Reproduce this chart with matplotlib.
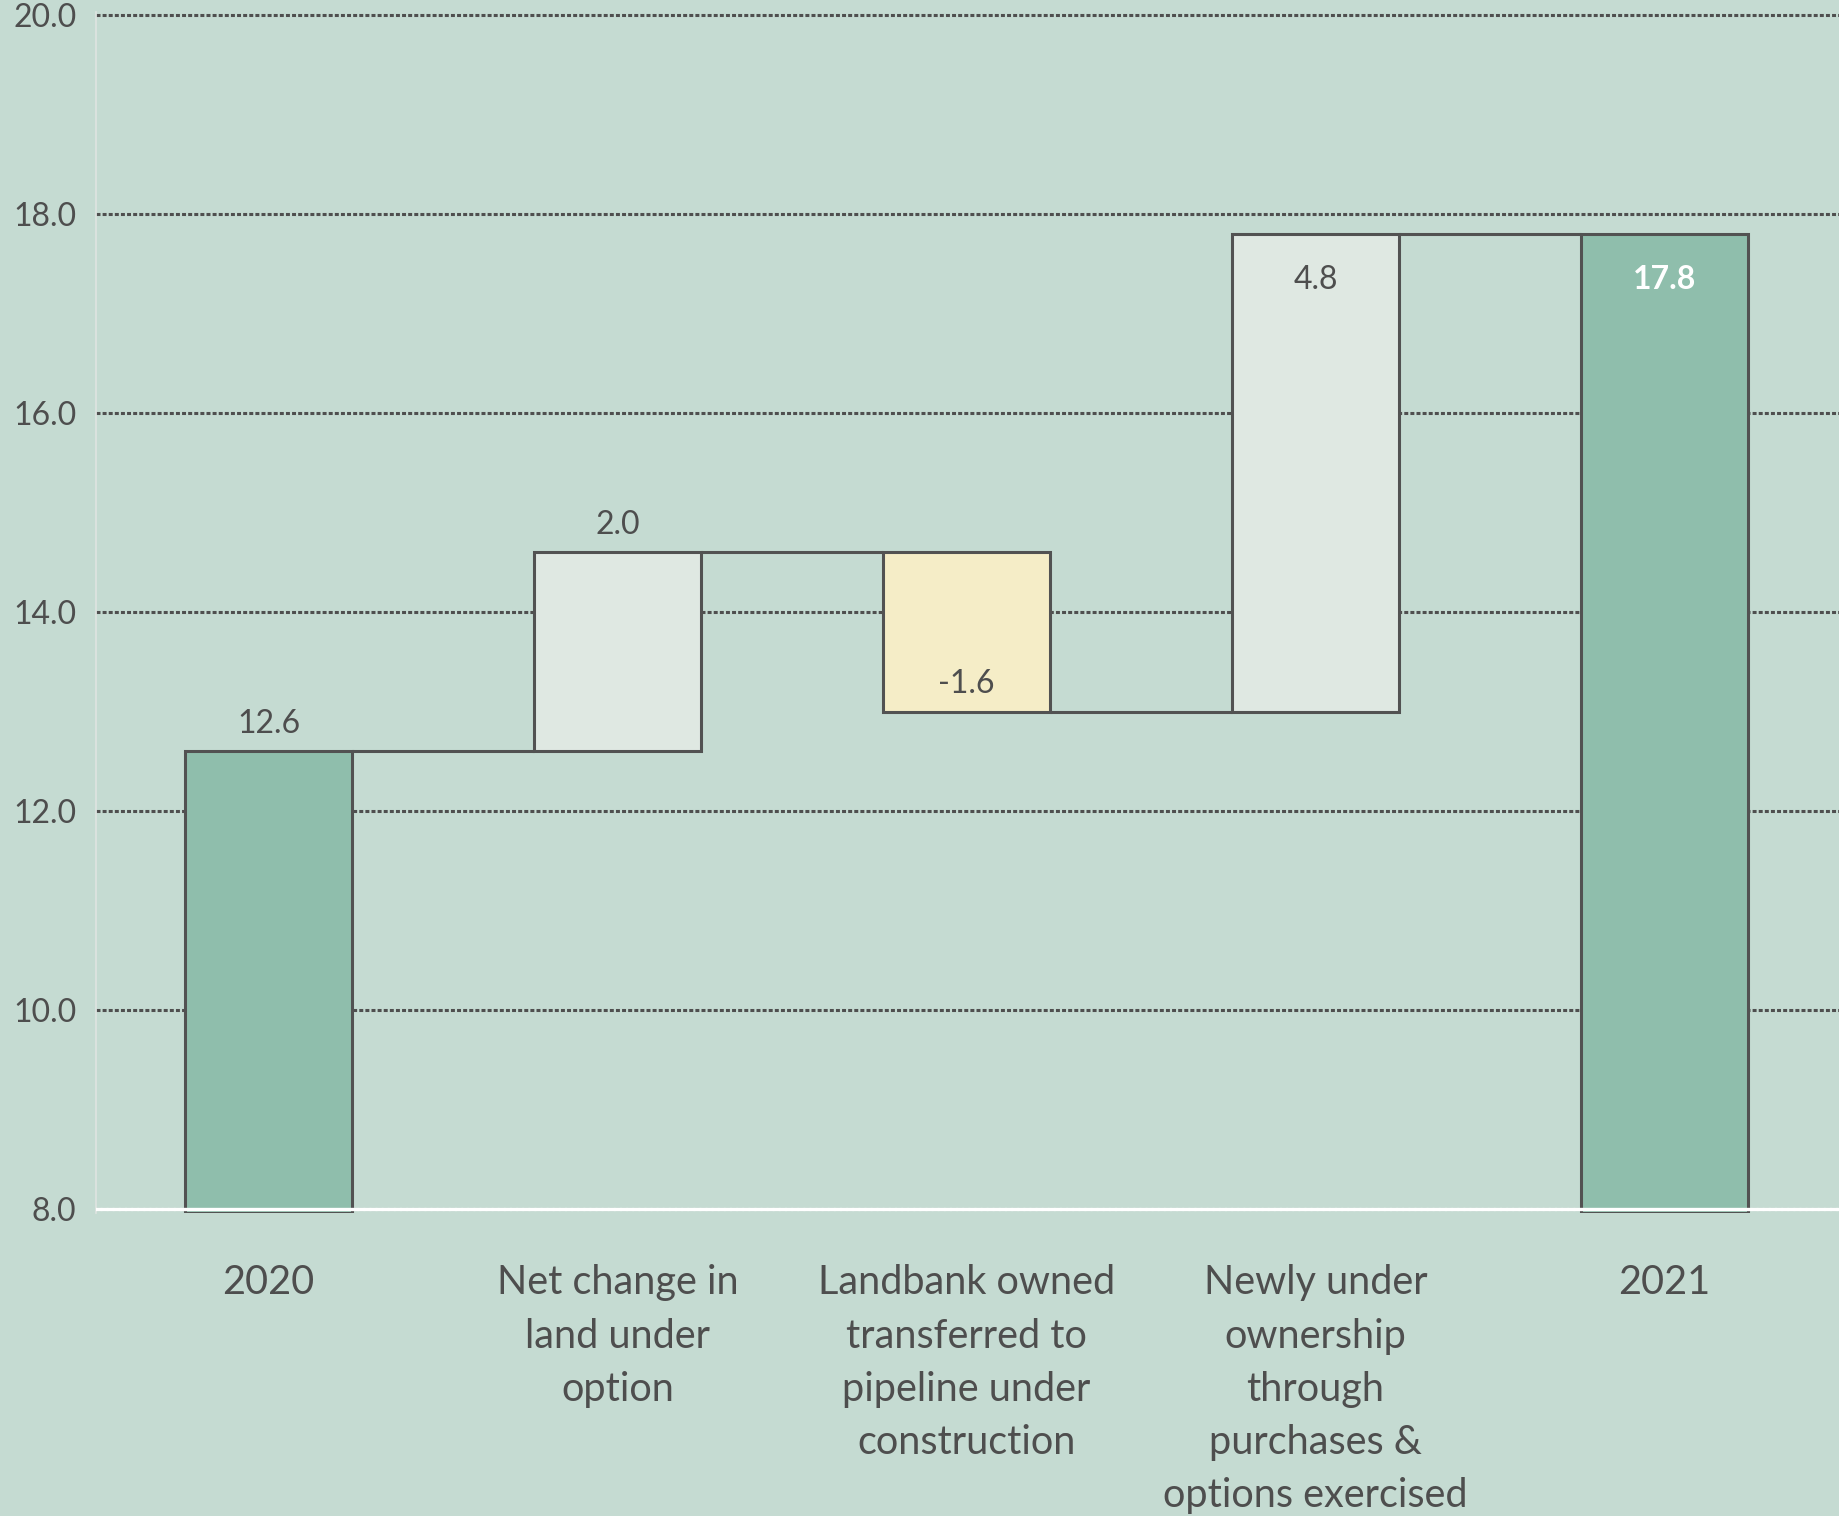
import matplotlib.pyplot as plt
import numpy as np

# Landbank bridge 2020 -> 2021
categories = ["2020",
              "Net change in\nland under\noption",
              "Landbank owned\ntransferred to\npipeline under\nconstruction",
              "Newly under\nownership\nthrough\npurchases &\noptions exercised",
              "2021"]
values = [12.6, 2.0, -1.6, 4.8, 17.8]
is_total = [True, False, False, False, True]
label_inside = [False, False, False, True, True]
yticks = [8.0, 10.0, 12.0, 14.0, 16.0, 18.0, 20.0]

bg = "#c5dbd2"
total_color = "#8fbeac"
up_color = "#dfe8e2"
down_color = "#f5edc7"
edge = "#525252"
text_color = "#4e4e4e"

plt.rcParams['font.family'] = ['Lato', 'DejaVu Sans']

W, H = 1839, 1516
fig = plt.figure(figsize=(W / 100, H / 100), dpi=100, facecolor=bg)
ax = fig.add_axes([96 / W, 1 - 1213 / H, 1 - 96 / W, (1213 - 12) / H])
ax.set_facecolor(bg)

floor = 7.96
width = 0.48
x = np.arange(len(values))

# running totals for the waterfall
bottoms, heights, levels, colors = [], [], [], []
running = 0.0
for v, tot in zip(values, is_total):
    if tot:
        bottoms.append(floor)
        heights.append(v - floor)
        running = v
        colors.append(total_color)
    else:
        bottoms.append(running)
        heights.append(v)
        running += v
        colors.append(up_color if v >= 0 else down_color)
    levels.append(running)

ax.bar(x, heights, bottom=bottoms, width=width, color=colors,
       edgecolor=edge, linewidth=2.2, zorder=3)

# connectors between neighbouring bars
for i in range(len(values) - 1):
    ax.plot([x[i] + width / 2, x[i + 1] - width / 2], [levels[i], levels[i]],
            color=edge, lw=2.2, zorder=2, solid_capstyle='butt')

# value labels
for i, v in enumerate(values):
    txt = f"{v:.1f}"
    if label_inside[i]:
        bold = is_total[i]
        ax.annotate(txt, (x[i], levels[i]), xytext=(0, -33), textcoords='offset points',
                    ha='center', va='center', fontsize=23,
                    color='white' if bold else text_color,
                    fontweight='bold' if bold else 'normal', zorder=5)
    else:
        ax.annotate(txt, (x[i], levels[i]), xytext=(0, 20), textcoords='offset points',
                    ha='center', va='center', fontsize=23, color=text_color, zorder=5)

ax.axhline(8.0, color='white', lw=2.4, zorder=4)

ax.set_xlim(-0.495, 4.5)
ax.set_ylim(floor, 20.03)
ax.set_yticks(yticks)
ax.set_yticklabels([f"{t:.1f}" for t in yticks], fontsize=23, color=text_color)
ax.set_xticks(x)
ax.set_xticklabels(categories, fontsize=28.5, color=text_color, linespacing=1.54)
ax.tick_params(axis='y', length=0, pad=14)
ax.tick_params(axis='x', length=0, pad=37)

ax.yaxis.grid(True, color="#4f4f4f", lw=2.2, linestyle=(0, (1.3, 0.7)), zorder=1)
ax.set_axisbelow(True)

for s in ['top', 'right', 'bottom']:
    ax.spines[s].set_visible(False)
ax.spines['left'].set_color("#dfe4e1")
ax.spines['left'].set_linewidth(1.2)

fig.savefig("out.png", dpi=100, facecolor=bg)
